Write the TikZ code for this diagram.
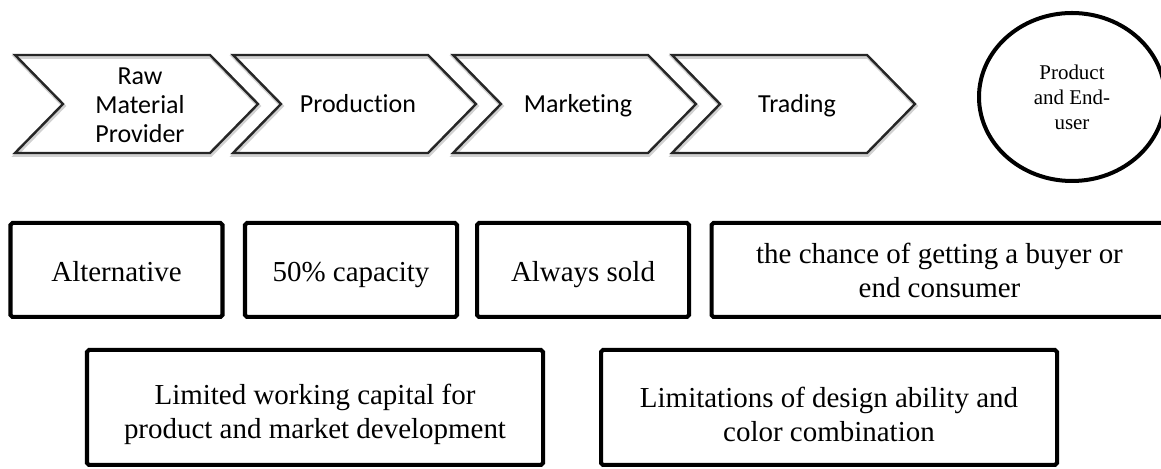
\documentclass[tikz,border=0pt]{standalone}
\usepackage{fontspec}
\setmainfont{Liberation Serif}
\newfontfamily\stagefont[Ligatures=NoCommon]{Carlito}
\usepackage{tikz}
\usetikzlibrary{shapes.geometric,shadows}

\tikzset{
        stageline/.style={draw=black!85, line width=1.7pt, line join=miter,
                drop shadow={fill=none, draw=black!30, opacity=.6, line width=2.6pt,
                        shadow xshift=.6pt, shadow yshift=-1.4pt}},
        stage/.style={inner sep=0pt, align=center, font=\stagefont\fontsize{18.5}{20.6}\selectfont},
        issue/.style={draw, line width=2.85pt, rounded corners=1.4pt, inner sep=0pt,
                align=center, minimum width=5.3cm, minimum height=2.35cm,
                font=\fontsize{20.6}{24.2}\selectfont},
        issuetext/.style={inner sep=0pt, align=center, font=\fontsize{20.6}{24.6}\selectfont},
        oneline/.style={text height=17pt, text depth=.6pt},
        enduser/.style={ellipse, draw, line width=2.85pt, minimum width=4.65cm,
                minimum height=4.2cm, inner sep=0pt, align=center,
                font=\fontsize{14.9}{17.8}\selectfont}
}

\begin{document}
\begin{tikzpicture}
        \clip (0cm, 0cm) rectangle (29.025cm, 11.725cm);
        % value chain arrows
        \draw [stageline] (0.375cm, 10.35cm) -- ++(4.875cm, 0cm) -- ++(1.2cm, -1.225cm) -- ++(-1.2cm, -1.225cm) -- ++(-4.875cm, 0cm) -- ++(1.2cm, 1.225cm) -- cycle;
        \draw [stageline] (5.825cm, 10.35cm) -- ++(4.875cm, 0cm) -- ++(1.2cm, -1.225cm) -- ++(-1.2cm, -1.225cm) -- ++(-4.875cm, 0cm) -- ++(1.2cm, 1.225cm) -- cycle;
        \draw [stageline] (11.325cm, 10.35cm) -- ++(4.875cm, 0cm) -- ++(1.2cm, -1.225cm) -- ++(-1.2cm, -1.225cm) -- ++(-4.875cm, 0cm) -- ++(1.2cm, 1.225cm) -- cycle;
        \draw [stageline] (16.8cm, 10.35cm) -- ++(4.875cm, 0cm) -- ++(1.2cm, -1.225cm) -- ++(-1.2cm, -1.225cm) -- ++(-4.875cm, 0cm) -- ++(1.2cm, 1.225cm) -- cycle;
        \node (s1) [stage] at (3.500000cm, 9.100000cm) {Raw\\Material\\Provider};
        \node (s2) [stage, text height=12.5pt, text depth=.6pt] at (8.950000cm, 9.125000cm) {Production};
        \node (s3) [stage, text height=12.5pt, text depth=.6pt] at (14.450000cm, 9.125000cm) {Marketing};
        \node (s4) [stage, text height=12.5pt, text depth=.6pt] at (19.925000cm, 9.125000cm) {Trading};
        \node (eu) [enduser] at (26.800000cm, 9.300000cm) {Product\\and End-\\user};
        % problems at each stage
        \node (p1) [issue, oneline] at (2.912500cm, 4.975000cm) {Alternative};
        \node (p2) [issue, oneline] at (8.775000cm, 4.975000cm) {50\% capacity};
        \node (p3) [issue, oneline] at (14.575000cm, 4.975000cm) {Always sold};
        \node (p4) [issue, minimum width=11.4cm] at (23.487500cm, 4.975000cm) {the chance of getting a buyer or\\end consumer};
        \node (p5) [issue, minimum width=11.4cm, minimum height=2.875cm] at (7.875000cm, 1.537500cm) {};
        \node (p6) [issue, minimum width=11.4cm, minimum height=2.875cm] at (20.725000cm, 1.537500cm) {};
        \node (t5) [issuetext] at ([yshift=-5pt]p5.center) {Limited working capital for\\product and market development};
        \node (t6) [issuetext] at ([yshift=-5pt]p6.center) {Limitations of design ability and\\color combination};
\end{tikzpicture}
\end{document}
